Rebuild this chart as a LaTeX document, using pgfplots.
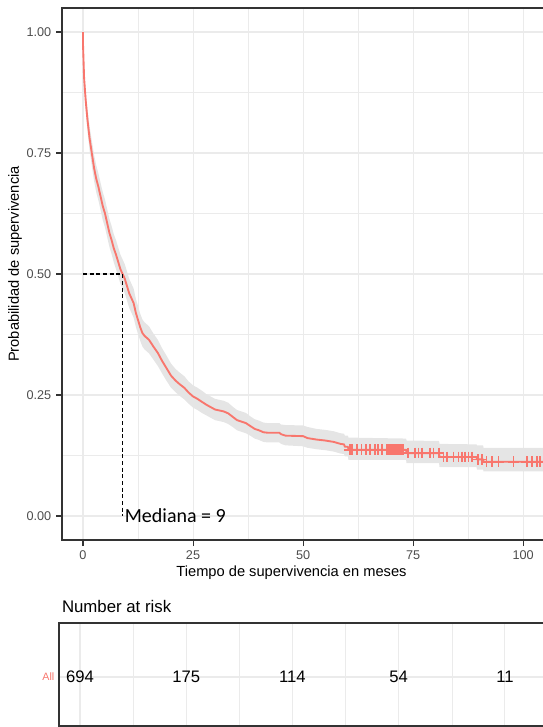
\documentclass[border=0pt]{standalone}
\usepackage{pgfplots}
\pgfplotsset{compat=1.18}
\usepgfplotslibrary{fillbetween}
\usepackage{pgfplotstable}
\usepackage{fontspec}
\setmainfont{Liberation Sans}
\newfontfamily\carlito{Carlito}
\definecolor{kmred}{HTML}{F8766D}
\definecolor{gridc}{HTML}{EBEBEB}
\definecolor{borderc}{HTML}{333333}
\definecolor{tickc}{HTML}{4D4D4D}

\pgfplotstableread{
t S lo hi
0 1.000 1.000 1.000
0 0.975 0.965 0.985
0.25 0.905 0.888 0.922
0.6 0.860 0.840 0.880
1.0 0.820 0.797 0.843
1.5 0.780 0.755 0.805
2.0 0.750 0.724 0.776
2.5 0.720 0.693 0.747
3.0 0.697 0.669 0.725
3.5 0.680 0.652 0.708
4.0 0.660 0.632 0.688
4.5 0.640 0.611 0.669
5.0 0.625 0.596 0.654
5.5 0.605 0.576 0.634
6.0 0.585 0.556 0.614
6.5 0.570 0.541 0.599
7.0 0.553 0.524 0.582
7.5 0.540 0.510 0.570
8.0 0.525 0.495 0.555
8.5 0.510 0.480 0.540
9.0 0.500 0.470 0.530
9.5 0.490 0.460 0.520
10 0.475 0.445 0.505
10.5 0.460 0.430 0.490
11 0.450 0.420 0.480
11.5 0.440 0.410 0.470
12 0.420 0.391 0.449
12.5 0.405 0.376 0.434
13 0.390 0.362 0.418
13.5 0.378 0.350 0.406
14 0.372 0.344 0.400
15 0.364 0.336 0.392
16 0.350 0.323 0.377
17 0.337 0.310 0.364
18 0.320 0.294 0.346
19 0.305 0.279 0.331
20 0.290 0.265 0.315
21 0.280 0.256 0.304
22 0.272 0.248 0.296
23 0.265 0.241 0.289
24 0.255 0.232 0.278
25 0.247 0.224 0.270
26 0.242 0.219 0.265
27 0.236 0.213 0.259
28 0.230 0.208 0.252
29 0.225 0.203 0.247
30 0.220 0.198 0.242
31 0.218 0.196 0.240
32 0.216 0.194 0.238
33 0.212 0.190 0.234
34 0.205 0.184 0.226
35 0.198 0.177 0.219
36 0.195 0.174 0.216
37 0.192 0.171 0.213
38 0.186 0.166 0.206
39 0.180 0.160 0.200
40 0.177 0.157 0.197
41 0.173 0.153 0.193
42 0.172 0.152 0.192
44.6 0.172 0.152 0.192
45 0.169 0.149 0.189
46 0.166 0.146 0.188
50 0.165 0.144 0.187
51 0.161 0.141 0.184
53 0.158 0.138 0.180
55 0.156 0.136 0.178
57 0.153 0.133 0.175
58.5 0.149 0.129 0.171
59.3 0.148 0.128 0.170
59.5 0.143 0.123 0.166
60.2 0.143 0.123 0.166
60.3 0.137 0.116 0.162
73.4 0.137 0.116 0.160
73.5 0.130 0.109 0.156
80.9 0.130 0.109 0.155
81 0.122 0.101 0.149
89.4 0.122 0.101 0.148
89.5 0.117 0.096 0.146
90.9 0.117 0.096 0.146
91 0.112 0.092 0.141
106.5 0.112 0.092 0.141
}\kmdata

\pgfplotstableread{
t S
60.6 0.137
61.1 0.137
62.2 0.137
63.3 0.137
64.3 0.137
65.2 0.137
66.4 0.137
67.1 0.137
67.9 0.137
69.0 0.137
69.5 0.137
69.8 0.137
70.2 0.137
70.5 0.137
70.9 0.137
71.3 0.137
71.7 0.137
72.0 0.137
72.4 0.137
72.8 0.137
73.9 0.130
75.5 0.130
76.2 0.130
77.0 0.130
78.9 0.130
79.6 0.130
80.8 0.130
81.9 0.122
82.7 0.122
84.2 0.122
85.3 0.122
86.1 0.122
86.8 0.122
87.6 0.122
88.3 0.122
89.8 0.117
90.6 0.117
91.7 0.112
92.9 0.112
94.4 0.112
97.8 0.112
100.8 0.112
102.0 0.112
103.1 0.112
103.9 0.112
}\censdata

\begin{document}
\begin{tikzpicture}
\begin{axis}[
  at={(46.5pt,-405pt)}, anchor=south west,
  scale only axis, width=366pt, height=399pt,
  xmin=-4.77, xmax=106.1, ymin=-0.0496, ymax=1.0496,
  xtick={0,25,50,75,100},
  ytick={0,0.25,0.5,0.75,1},
  yticklabels={0.00,0.25,0.50,0.75,1.00},
  minor xtick={12.5,37.5,62.5,87.5},
  minor ytick={0.125,0.375,0.625,0.875},
  grid=both,
  major grid style={gridc, line width=0.8pt},
  minor grid style={gridc, line width=0.45pt},
  tick align=outside, xtick pos=bottom, ytick pos=left,
  major tick length=4.5pt, minor tick length=0pt,
  tick style={borderc, line width=0.8pt},
  axis line style={borderc, line width=1pt},
  /pgf/number format/assume math mode=true,
  ticklabel style={font=\fontsize{9.5}{11}\selectfont, text=tickc},
  xlabel={Tiempo de supervivencia en meses},
  ylabel={Probabilidad de supervivencia},
  xlabel style={at={(axis description cs:0.4703,-0.062)}, anchor=center, font=\fontsize{11}{13}\selectfont},
  ylabel style={at={(axis description cs:-0.0963,0.5188)}, anchor=center, font=\fontsize{11}{13}\selectfont},
]
\addplot[name path=U, draw=none, forget plot] table[x=t, y=hi] {\kmdata};
\addplot[name path=L, draw=none, forget plot] table[x=t, y=lo] {\kmdata};
\addplot[fill=gray!20, draw=none, forget plot] fill between[of=U and L];
\addplot[kmred, line width=1.4pt, line join=round] table[x=t, y=S] {\kmdata};
\addplot[only marks, mark=+, mark size=4pt, kmred, mark options={line width=1.3pt}] table[x=t, y=S] {\censdata};
\addplot[black, line width=0.8pt, dash pattern=on 3pt off 2pt] coordinates {(0,0.5) (9,0.5) (9,0)};
\node[anchor=west, inner sep=1.5pt, font=\carlito\fontsize{15}{18}\selectfont] at (axis cs:9,0) {Mediana = 9};
\end{axis}

\node[anchor=base west, inner sep=0pt, font=\fontsize{12.6}{15}\selectfont] at (46.3pt,-459pt) {Number at risk};

\begin{axis}[
  at={(44.25pt,-544.5pt)}, anchor=south west,
  scale only axis, width=368.25pt, height=77.25pt,
  xmin=-4.94, xmax=110.6, ymin=0.524, ymax=1.524,
  xtick={0,25,50,75,100}, xticklabels={},
  minor xtick={12.5,37.5,62.5,87.5},
  ytick={1}, yticklabels={All},
  grid=both,
  major grid style={gridc, line width=0.8pt},
  minor grid style={gridc, line width=0.45pt},
  major tick length=0pt, minor tick length=0pt,
  axis line style={borderc, line width=1pt},
  yticklabel style={text=kmred, font=\fontsize{8}{9}\selectfont},
]
\addplot[draw=none, mark=none, nodes near coords, point meta=explicit symbolic,
  nodes near coords style={anchor=center, font=\fontsize{12.5}{14}\selectfont, text=black}]
  coordinates {(0,1)[694] (25,1)[175] (50,1)[114] (75,1)[54] (100,1)[11]};
\end{axis}
\pgfresetboundingbox
\useasboundingbox (0pt,0pt) rectangle (406.5pt,-545.25pt);
\end{tikzpicture}
\end{document}
